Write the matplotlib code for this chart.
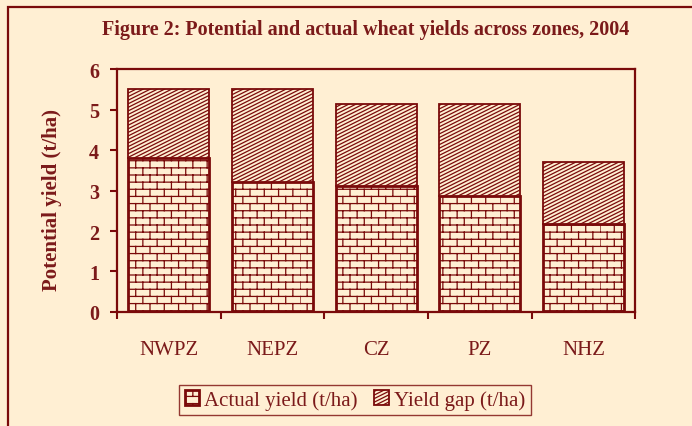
import numpy as np
import matplotlib
matplotlib.use('Agg')
import matplotlib.pyplot as plt
import matplotlib.hatch as mhatch
from matplotlib.path import Path
from matplotlib.patches import Rectangle

# values (t/ha)
zones = ['NWPZ', 'NEPZ', 'CZ', 'PZ', 'NHZ']
actual = [3.80, 3.22, 3.12, 2.87, 2.17]
potential = [5.51, 5.51, 5.14, 5.14, 3.71]
gap = [p - a for p, a in zip(potential, actual)]

bg = '#FFEFD3'
dark = '#7A0A0A'
txt = '#7B1A1A'


class BrickHatch(mhatch.HatchPatternBase):
    # '|' -> brick wall (rows of bricks, staggered joints)
    def __init__(self, hatch, density):
        self.rows = 14 if '|' in hatch else 0
        self.cols = 7
        if self.rows:
            self.num_vertices = (self.rows + (self.rows + 1) * self.cols) * 2
        else:
            self.num_vertices = 0

    def set_vertices_and_codes(self, vertices, codes):
        n, m = self.rows, self.cols
        segs = []
        for k in range(n):
            y = (k + 0.5) / n
            segs.append(((0.0, y), (1.0, y)))
        for i in range(n + 1):
            y0 = max((i - 0.5) / n, 0.0)
            y1 = min((i + 0.5) / n, 1.0)
            for j in range(m):
                x = (j + 0.5 * (i % 2)) / m
                segs.append(((x, y0), (x, y1)))
        pts = np.array(segs).reshape(-1, 2)
        vertices[:] = pts
        codes[0::2] = Path.MOVETO
        codes[1::2] = Path.LINETO


class ShallowHatch(mhatch.HatchPatternBase):
    # '\\' -> shallow rising diagonal lines
    def __init__(self, hatch, density):
        self.n = 28 if '\\' in hatch else 0
        self.num_vertices = int(self.n * 1.5) * 2 if self.n else 0

    def set_vertices_and_codes(self, vertices, codes):
        n = self.n
        segs = []
        for k in range(-n // 2, n):
            c = k / n
            segs.append(((0.0, c), (1.0, c + 0.5)))
        vertices[:] = np.array(segs).reshape(-1, 2)
        codes[0::2] = Path.MOVETO
        codes[1::2] = Path.LINETO


mhatch._hatch_types = [mhatch.HorizontalHatch, BrickHatch,
                       mhatch.NorthEastHatch, ShallowHatch]

plt.rcParams['font.family'] = ['Liberation Serif', 'DejaVu Serif']
plt.rcParams['hatch.linewidth'] = 0.9
plt.rcParams['hatch.color'] = dark

fig = plt.figure(figsize=(6.92, 4.27), dpi=100, facecolor=bg)
ax = fig.add_axes([0.169, 0.267, 0.749, 0.569])
ax.set_facecolor(bg)

# outer frame
fig.patches.append(Rectangle((8 / 692, -0.1), 1.1, (427 - 8) / 427 + 0.1,
                             transform=fig.transFigure, fill=False,
                             edgecolor=dark, lw=1.6))

x = np.arange(len(zones))
ax.bar(x, actual, width=0.78, facecolor=bg, edgecolor=dark, hatch='|',
       lw=2.0, label='Actual yield (t/ha)')
ax.bar(x, gap, bottom=actual, width=0.78, facecolor=bg, edgecolor=dark,
       hatch='\\', lw=1.3, label='Yield gap (t/ha)')

ax.set_xlim(-0.5, 4.5)
ax.set_ylim(0, 6)
ax.set_yticks(range(7))
ax.set_yticklabels([str(v) for v in range(7)], fontsize=14.5,
                   fontweight='bold', color=txt)
ax.set_xticks(x)
ax.set_xticklabels(zones, fontsize=15, color=txt)
ax.set_xticks(np.arange(-0.5, 5, 1), minor=True)
ax.tick_params(axis='x', which='major', length=0, pad=20)
ax.tick_params(axis='x', which='minor', length=5, width=1.5, color=dark,
               direction='out')
ax.tick_params(axis='y', length=5, width=1.5, color=dark, pad=8)
for s in ax.spines.values():
    s.set_color(dark)
    s.set_linewidth(1.6)

ax.set_ylabel('Potential yield (t/ha)', fontsize=15, fontweight='bold',
              color=txt)
ax.yaxis.set_label_coords(-0.106, 0.465)
fig.text(0.528, 0.929, 'Figure 2: Potential and actual wheat yields across zones, 2004',
         ha='center', va='center', fontsize=14.5, fontweight='bold', color=txt)

leg = ax.legend(loc='center', bbox_to_anchor=(355 / 692, 26 / 427),
                bbox_transform=fig.transFigure, ncol=2, frameon=True,
                fontsize=15, handlelength=0.7, handleheight=0.7,
                handletextpad=0.25, columnspacing=0.8, borderpad=0.25,
                fancybox=False, labelcolor=txt)
leg.get_frame().set_edgecolor(dark)
leg.get_frame().set_facecolor(bg)
leg.get_frame().set_linewidth(1.0)

fig.savefig('out.png', dpi=100, facecolor=bg)
